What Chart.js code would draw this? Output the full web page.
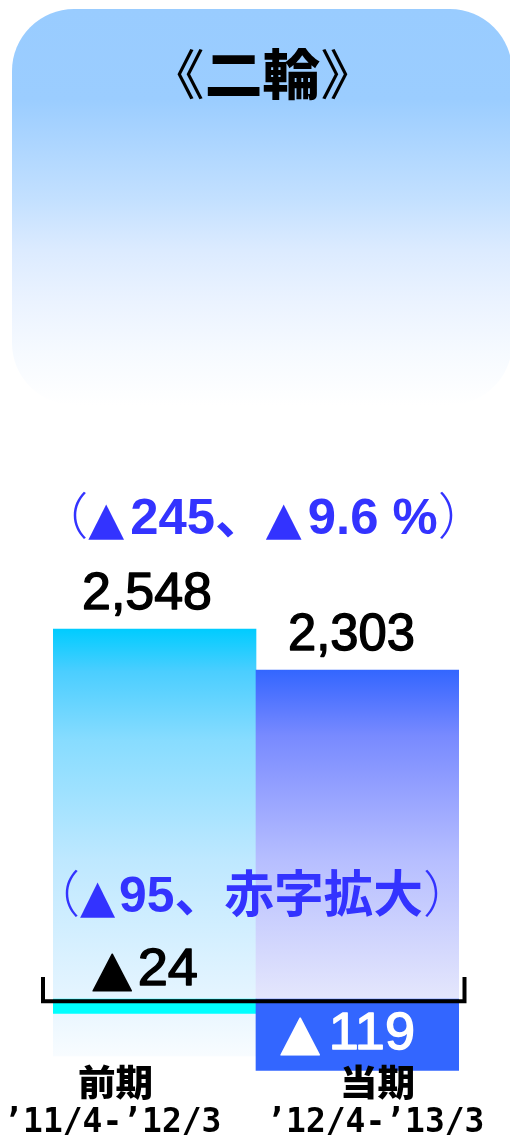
<!DOCTYPE html>
<html><head><meta charset="utf-8">
<script src="https://cdn.jsdelivr.net/npm/chart.js@4/dist/chart.umd.min.js"></script>
<style>html,body{margin:0;padding:0;background:#fff;} #wrap{width:510px;height:1137px;}</style>
</head><body><div id="wrap"><canvas id="c" width="510" height="1137"></canvas></div>
<script>
const title = '《二輪》';
const categories = ['前期', '当期'];
const periods = ['’11/4-’12/3', '’12/4-’13/3'];
const sales = [2548, 2303];
const profit = [-24, -119];
const salesChangeText = '（▲245、▲9.6 %）';
const profitChangeText = '（▲95、赤字拡大）';
const profitColors = ['#00FFFF', '#3366FF'];
const salesStops = [
  [[0,'#00CCFF'],[0.1,'rgb(75,206,255)'],[0.26,'rgb(135,220,255)'],[0.4,'rgb(162,226,255)'],[0.54,'rgb(190,232,255)'],[0.87,'rgb(230,245,255)'],[1,'rgb(248,252,255)']],
  [[0,'#3366FF'],[0.07,'rgb(80,116,255)'],[0.17,'rgb(120,138,255)'],[0.33,'rgb(152,164,255)'],[0.49,'rgb(182,190,255)'],[0.85,'rgb(228,230,252)'],[1,'rgb(245,245,255)']]
];
const fmtNum = v => (v < 0 ? '▲' : '') + Math.abs(v).toLocaleString('en-US');

// split text into runs: ▲ in a font with a large triangle, full-width parens thin
function toRuns(text, mainFont, triFont, parenFont, triGap) {
  const runs = [];
  for (const ch of text) {
    const f = ch === '▲' ? triFont : ((ch === '（' || ch === '）') ? parenFont : mainFont);
    const gap = ch === '▲' ? (triGap || 0) : 0;
    if (runs.length && runs[runs.length - 1].f === f && ch !== '▲') runs[runs.length - 1].t += ch;
    else runs.push({ t: ch, f, gap });
  }
  return runs;
}

function fitRuns(ctx, runs, color, cx, cy, w, strokeW) {
  ctx.save();
  ctx.fillStyle = color; ctx.strokeStyle = color; ctx.textAlign = 'left'; ctx.textBaseline = 'alphabetic';
  let x = 0, inkL = Infinity, inkR = -Infinity, asc = 0, desc = 0;
  const placed = [];
  runs.forEach(r => {
    ctx.font = r.f;
    const m = ctx.measureText(r.t);
    inkL = Math.min(inkL, x - m.actualBoundingBoxLeft);
    inkR = Math.max(inkR, x + m.actualBoundingBoxRight);
    asc = Math.max(asc, m.actualBoundingBoxAscent);
    desc = Math.max(desc, m.actualBoundingBoxDescent);
    placed.push([r, x]);
    x += m.width + (r.gap || 0);
  });
  const sx = w / (inkR - inkL);
  const midX = (inkL + inkR) / 2;
  const midY = (desc - asc) / 2;
  ctx.translate(cx, cy); ctx.scale(sx, 1);
  ctx.lineJoin = 'round';
  ctx.lineWidth = strokeW || 0;
  placed.forEach(([r, px]) => {
    ctx.font = r.f;
    ctx.fillText(r.t, px - midX, -midY);
    if (strokeW) ctx.strokeText(r.t, px - midX, -midY);
  });
  ctx.restore();
}
function fitText(ctx, text, font, color, cx, cy, w, strokeW) {
  fitRuns(ctx, [{ t: text, f: font }], color, cx, cy, w, strokeW);
}

function roundRectPath(ctx, x, y, w, h, r) {
  ctx.beginPath();
  ctx.moveTo(x + r, y);
  ctx.arcTo(x + w, y, x + w, y + h, r);
  ctx.arcTo(x + w, y + h, x, y + h, r);
  ctx.arcTo(x, y + h, x, y, r);
  ctx.arcTo(x, y, x + w, y, r);
  ctx.closePath();
}

const panelPlugin = {
  id: 'panel',
  beforeDraw(chart) {
    const ctx = chart.ctx;
    ctx.save();
    const g = ctx.createLinearGradient(0, 9, 0, 405);
    g.addColorStop(0, '#99CCFF'); g.addColorStop(0.23, '#9BCDFF');
    g.addColorStop(0.48, 'rgb(195,224,255)'); g.addColorStop(0.61, 'rgb(220,235,255)');
    g.addColorStop(0.74, 'rgb(235,243,255)'); g.addColorStop(0.87, 'rgb(246,250,255)');
    g.addColorStop(1, '#FFFFFF');
    ctx.fillStyle = g;
    roundRectPath(ctx, 12, 9, 500, 396, 62);
    ctx.fill();
    ctx.restore();
    fitRuns(ctx, [
      { t: '《', f: "54px 'Noto Sans CJK JP'" },
      { t: '二輪', f: "900 54px 'Noto Sans CJK JP'" },
      { t: '》', f: "54px 'Noto Sans CJK JP'" }
    ], '#000', 262.5, 74, 171);
  }
};

const MAIN_NUM = "52px 'Liberation Sans'";
const TRI_BLACK = "48px 'DejaVu Sans'";
const BLUE_MAIN = "bold 50px 'Liberation Sans','Noto Sans CJK JP'";
const TRI_BLUE = "46px 'DejaVu Sans'";
const PAREN = "300 50px 'Noto Sans CJK JP'";

const labelPlugin = {
  id: 'labels',
  afterDatasetsDraw(chart) {
    const ctx = chart.ctx;
    const ca = chart.chartArea;
    const xs = chart.scales.x;
    const yP = chart.scales.yP;
    const sMeta = chart.getDatasetMeta(1);
    const s0 = sMeta.data[0], s1 = sMeta.data[1];
    const zP = yP.getPixelForValue(0);
    // baseline bracket
    ctx.save();
    ctx.strokeStyle = '#000'; ctx.lineWidth = 4; ctx.lineJoin = 'miter'; ctx.lineCap = 'butt';
    ctx.beginPath();
    ctx.moveTo(ca.left - 10, zP - 22);
    ctx.lineTo(ca.left - 10, zP + 2.3);
    ctx.lineTo(ca.right + 5.5, zP + 2.3);
    ctx.lineTo(ca.right + 5.5, zP - 22);
    ctx.stroke();
    ctx.restore();

    const mid = (s0.x + s1.x) / 2;
    fitRuns(ctx, toRuns(salesChangeText, BLUE_MAIN, TRI_BLUE, PAREN, 6), '#3333FF', mid + 7, s0.y - 113.5, 380);
    fitText(ctx, fmtNum(sales[0]), MAIN_NUM, '#000', s0.x - 7.5, s0.y - 35, 126, 1.4);
    fitText(ctx, fmtNum(sales[1]), MAIN_NUM, '#000', s1.x - 6, s1.y - 35, 123, 1.4);
    fitRuns(ctx, toRuns(profitChangeText, BLUE_MAIN, TRI_BLUE, PAREN, 4), '#3333FF', mid - 4.5, zP - 105.5, 373);
    fitRuns(ctx, toRuns(fmtNum(profit[0]), MAIN_NUM, TRI_BLACK, PAREN, 6), '#000', s0.x - 9.5, zP - 30, 104, 1.4);
    fitRuns(ctx, toRuns(fmtNum(profit[1]), MAIN_NUM, TRI_BLACK, PAREN, 9), '#FFFFFF', s1.x - 10.5, zP + 34, 132, 1.4);

    const catOff = [-39.5, 20.5];
    const catW = [72, 70];
    categories.forEach((c, i) => {
      const cx = xs.getPixelForValue(i) + catOff[i];
      fitText(ctx, c, "900 36px 'Noto Sans CJK JP'", '#000', cx, ca.bottom - 18, catW[i]);
      fitText(ctx, periods[i], "bold 34px 'DejaVu Sans Mono'", '#000', cx, ca.bottom + 20.5, 210);
    });
  }
};

const salesBg = (c) => {
  const ch = c.chart;
  const i = c.dataIndex;
  if (!ch.chartArea || !ch.scales.yS) return salesStops[i][0][1];
  const s = ch.scales.yS;
  const top = s.getPixelForValue(sales[i]);
  const base = s.getPixelForValue(0);
  const g = ch.ctx.createLinearGradient(0, top, 0, base);
  salesStops[i].forEach(([o, col]) => g.addColorStop(o, col));
  return g;
};

new Chart(document.getElementById('c'), {
  type: 'bar',
  data: {
    labels: categories,
    datasets: [
      { label: '営業利益', data: profit, yAxisID: 'yP', backgroundColor: profitColors, order: 0,
        borderWidth: 0, grouped: false, categoryPercentage: 1, barPercentage: 1 },
      { label: '売上高', data: sales, yAxisID: 'yS', backgroundColor: salesBg, order: 1,
        borderWidth: 0, grouped: false, categoryPercentage: 1, barPercentage: 1 }
    ]
  },
  options: {
    responsive: false, animation: false, devicePixelRatio: 1,
    layout: { padding: { left: 53, right: 51, top: 420, bottom: 37 } },
    plugins: { legend: { display: false }, tooltip: { enabled: false }, title: { display: false } },
    scales: {
      x: { display: false, offset: true, grid: { display: false } },
      yS: { display: false, min: -262.5, max: 3795 },
      yP: { display: false, min: -168.3, max: 965 }
    }
  },
  plugins: [panelPlugin, labelPlugin]
});
</script>
</body></html>
